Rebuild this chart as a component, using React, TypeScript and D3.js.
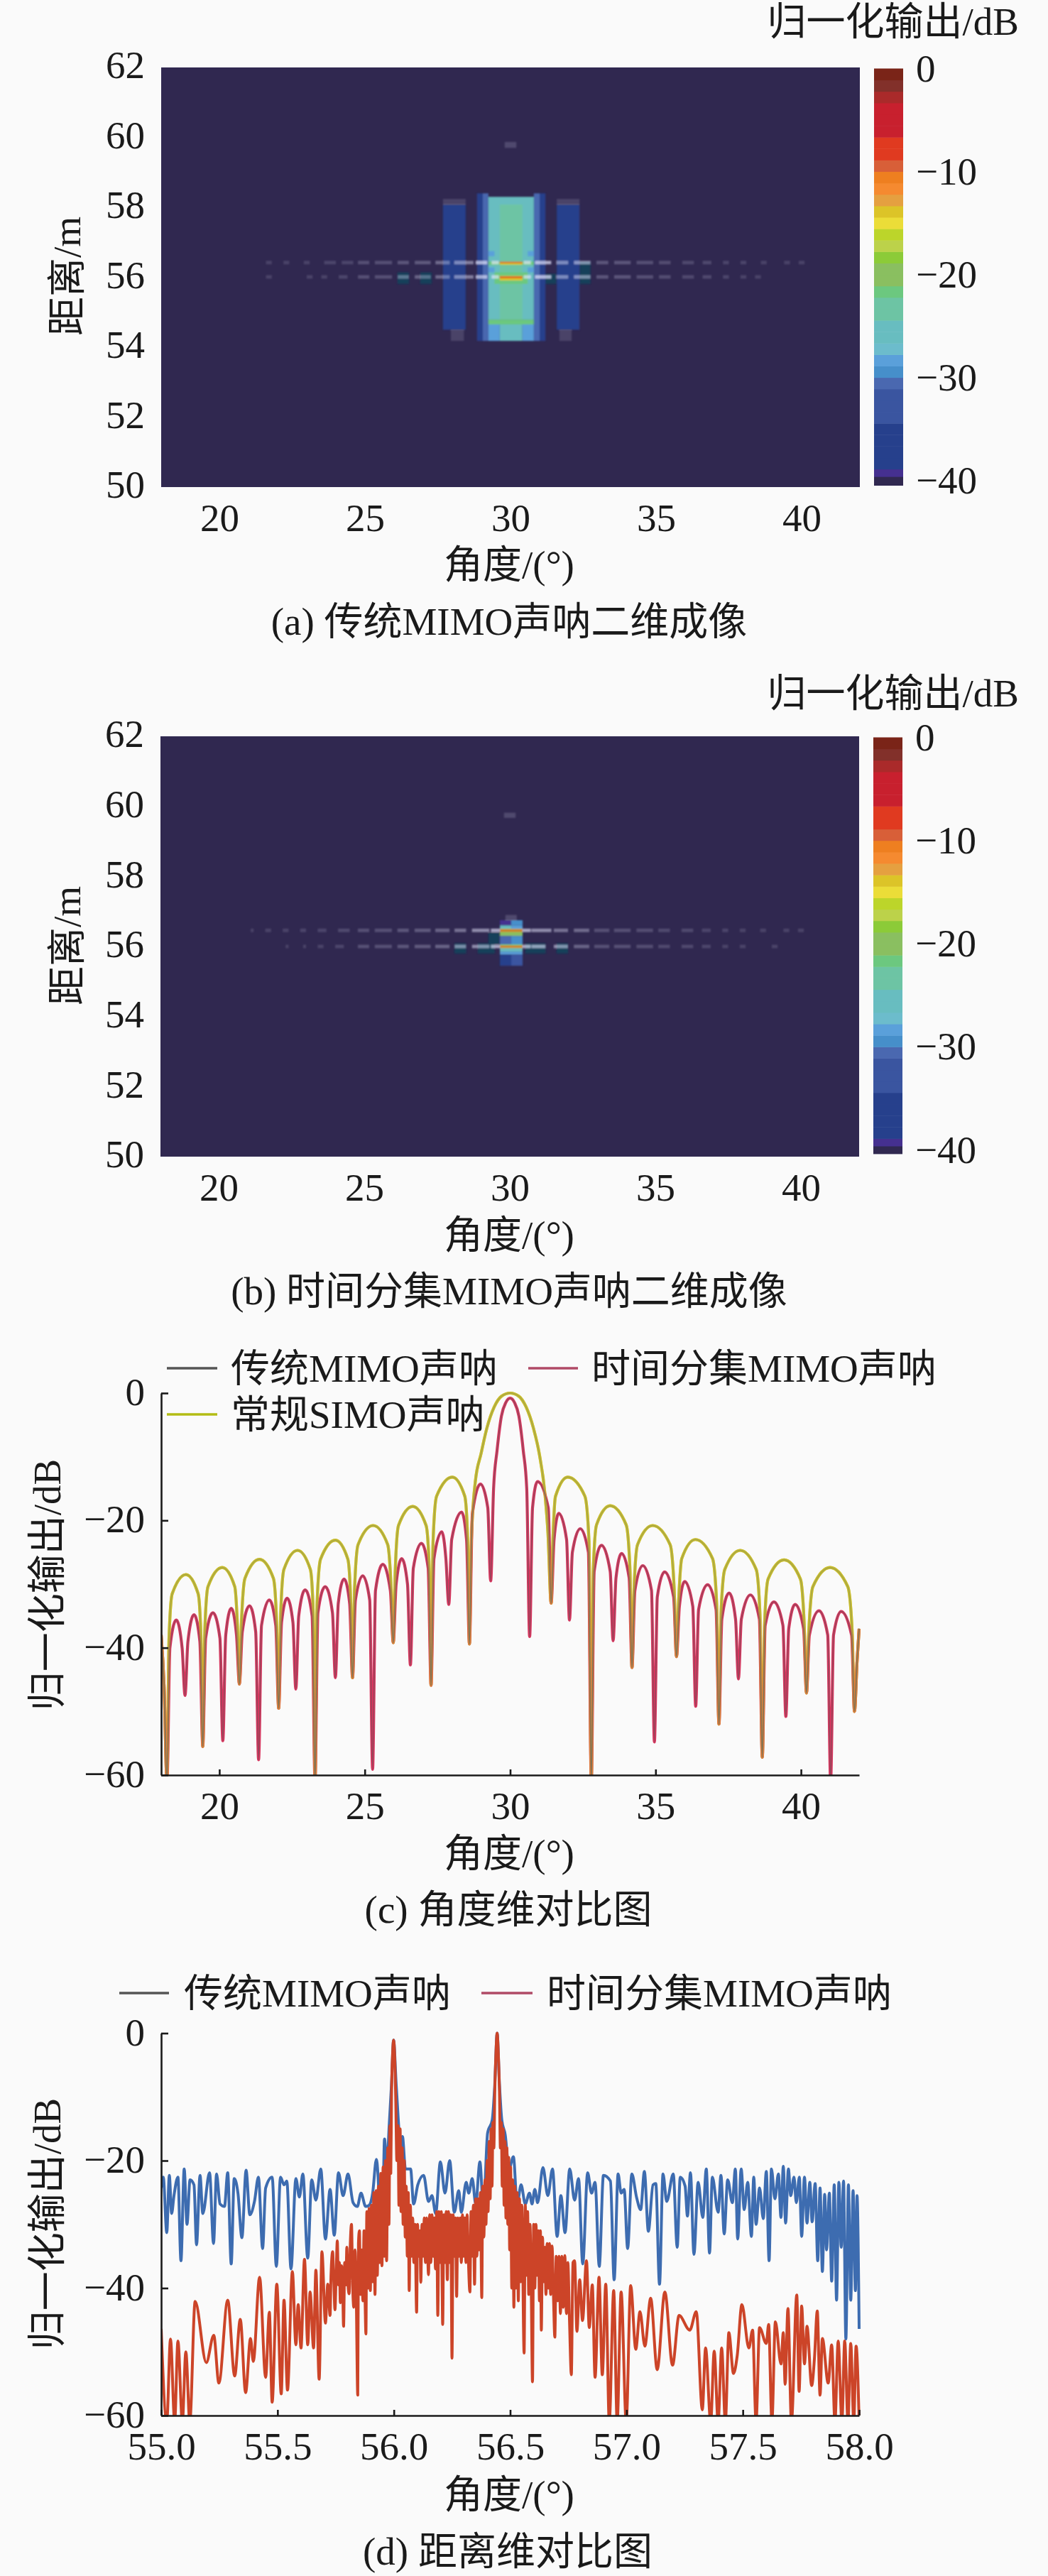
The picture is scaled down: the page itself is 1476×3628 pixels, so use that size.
import React, { useEffect, useRef } from "react";
import * as d3 from "d3";

type Pt = [number, number];
// angle start, angle end, range start, range end, level in dB
type Cell = [number, number, number, number, number];
// angle start, angle end, level in dB
type Dash = [number, number, number];

const FONT = '"Liberation Serif", "Noto Sans CJK SC", serif';
const TEXT = "#1a1a1a";

const colorbarTicks = [0, -10, -20, -30, -40];
const angleTicks = [20, 25, 30, 35, 40];
const rangeTicks = [50, 52, 54, 56, 58, 60, 62];
const levelTicks = [0, -20, -40, -60];
const rangeCutTicks = [55, 55.5, 56, 56.5, 57, 57.5, 58];

// colormap bands, from -40 dB up to 0 dB
const bandColors = [
  "#453090", "#26408c", "#26408c", "#26408c", "#26408c", "#3a55a0", "#3a55a0", "#3a55a0",
  "#4a68b0", "#468fca", "#5aa0da", "#6cbccc", "#68bdc0", "#68bdc0", "#6dc4a4", "#6dc4a4",
  "#6cc87f", "#8abf60", "#8abf60", "#8ccb38", "#bcd24a", "#bcd52a", "#ebdd38", "#dcc428",
  "#e5a040", "#f58a30", "#ee7f20", "#d85f38", "#e03a20", "#e03a20", "#c8202e", "#c8202e",
  "#c8202e", "#aa2a2a", "#82302a", "#7a2418",
];
const floorColor = "#302850";
const floorLevel = -39.65;

// (a) conventional MIMO image
const cellsA: Cell[] = [
  [27.68, 28.46, 54.5, 58.08, -35], [31.59, 32.37, 54.5, 58.08, -35],
  [28.85, 29.05, 54.18, 58.4, -35], [29.05, 29.24, 54.18, 58.4, -31],
  [30.8, 31, 54.18, 58.4, -31], [31, 31.2, 54.18, 58.4, -35],
  [29.24, 30.8, 54.79, 58.3, -25], [29.63, 30.41, 54.79, 58.08, -23],
  [29.24, 30.8, 54.65, 54.79, -21.6], [29.63, 30.41, 54.18, 54.65, -25],
  [29.24, 29.63, 54.18, 54.65, -28.2], [30.41, 30.8, 54.18, 54.65, -28.2],
  [29.24, 29.45, 56.6, 56.75, -28.2], [30.59, 30.8, 56.6, 56.75, -28.2],
  [29.24, 29.45, 56.14, 56.28, -28.2], [30.59, 30.8, 56.14, 56.28, -28.2],
  [29.45, 30.59, 55.81, 56.14, -21.6], [29.24, 30.8, 56.35, 56.45, -21.6],
  [29.63, 30.41, 56.36, 56.44, -13.5], [29.63, 30.41, 56.41, 56.44, -8],
  [29.63, 30.41, 55.91, 56.04, -13.5], [29.63, 30.41, 55.98, 56.02, -7],
];
const tealA: Cell[] = [
  [26.12, 26.51, 55.81, 56.14, 0], [26.9, 27.29, 55.81, 56.14, 0],
  [31.2, 31.57, 55.81, 56.1, 0], [32.38, 32.75, 55.81, 56.45, 0],
];
const faintA: Cell[] = [
  [29.8, 30.2, 59.7, 59.87, -38], [27.68, 28.46, 58.08, 58.24, -39], [31.59, 32.37, 58.08, 58.24, -39],
  [27.95, 28.4, 54.18, 54.5, -39], [31.68, 32.1, 54.18, 54.5, -39],
];
const dashesA1: Dash[] = [
  [21.6, 21.8, -39], [22.2, 22.4, -39], [22.9, 23.1, -39], [23.6, 24, -38.5], [24.2, 24.6, -38.5],
  [24.76, 25.15, -37], [25.34, 25.93, -37], [26.12, 26.51, -36], [26.71, 27.26, -35.5], [27.42, 27.91, -33],
  [28.07, 28.73, -30], [28.8, 29.2, -23], [29.35, 29.6, -24], [30.45, 30.7, -24], [30.84, 31.4, -23],
  [31.57, 31.98, -30], [32.18, 32.75, -28], [32.95, 33.36, -36], [33.56, 34.13, -36], [34.33, 34.9, -37],
  [35.1, 35.5, -37.5], [35.9, 36.3, -38], [36.6, 36.9, -38], [37.3, 37.5, -38.5], [37.9, 38.1, -38.5],
  [38.6, 38.8, -39], [39.4, 39.6, -39], [39.9, 40.1, -39],
];
const dashesA2: Dash[] = [
  [21.6, 21.8, -39], [23, 23.2, -39], [23.5, 23.7, -39], [24.1, 24.4, -38.5],
  [24.76, 25.15, -37], [25.34, 25.93, -37], [26.12, 26.51, -33], [26.71, 27.26, -34], [27.42, 27.91, -33],
  [28.07, 28.73, -30], [28.8, 29.2, -24], [29.35, 29.6, -24], [30.45, 30.7, -24], [30.84, 31.4, -22],
  [31.57, 31.98, -30], [32.18, 32.75, -29], [32.95, 33.36, -36], [33.56, 34.13, -36], [34.33, 34.9, -37],
  [35.1, 35.5, -37.5], [35.9, 36.3, -38], [36.6, 36.9, -38], [37.3, 37.5, -38.5], [37.9, 38.1, -39], [38.4, 38.6, -39],
];

// (b) time diversity MIMO image
const cellsB: Cell[] = [
  [29.66, 30.05, 56.6, 56.75, -39], [30.05, 30.44, 56.6, 56.75, -29.5],
  [29.66, 30.05, 56.5, 56.6, -25], [30.05, 30.44, 56.5, 56.6, -28.2],
  [29.66, 30.44, 56.41, 56.5, -13.5], [29.66, 30.44, 56.44, 56.47, -6],
  [29.66, 30.44, 56.3, 56.41, -19.5], [29.66, 30.05, 56.06, 56.3, -31], [30.05, 30.44, 56.06, 56.3, -29.5],
  [29.66, 30.44, 56, 56.06, -21.6], [29.66, 30.44, 55.95, 56.03, -13.5], [29.66, 30.44, 55.98, 56.01, -6],
  [29.66, 30.44, 55.85, 55.95, -25], [29.66, 30.44, 55.77, 55.85, -28.2],
  [29.66, 30.05, 55.45, 55.77, -35], [30.05, 30.44, 55.45, 55.77, -33],
];
const tealB: Cell[] = [
  [28.1, 28.5, 55.8, 56.09, 0], [28.9, 29.48, 55.8, 56.09, 0], [30.53, 31.23, 55.8, 56.09, 0],
  [31.61, 32, 55.8, 56.09, 0], [29.27, 29.64, 56.06, 56.4, 0],
];
const faintB: Cell[] = [
  [29.8, 30.2, 59.67, 59.82, -38], [29.85, 30.24, 56.75, 56.9, -38],
];
const dashesB1: Dash[] = [
  [21.1, 21.2, -39], [21.6, 21.8, -39], [22.2, 22.4, -39], [22.8, 23, -38.5], [23.4, 23.7, -38.5], [24.1, 24.5, -38],
  [24.78, 25.17, -37], [25.36, 25.95, -37], [26.14, 26.53, -36], [26.73, 27.28, -35.5], [27.44, 27.93, -34],
  [28.1, 28.5, -32], [28.7, 29.3, -28], [29.35, 29.66, -24], [30.44, 30.72, -24], [30.74, 31.43, -28],
  [31.51, 32, -32], [32.2, 32.73, -33], [32.9, 33.42, -37], [33.58, 34.15, -37], [34.35, 34.92, -37.5],
  [35.1, 35.5, -38], [35.9, 36.3, -38], [36.6, 36.9, -38.5], [37.3, 37.5, -38.5], [37.9, 38.1, -39],
  [38.6, 38.8, -39], [39.4, 39.6, -39], [39.9, 40.1, -39],
];
const dashesB2: Dash[] = [
  [22.3, 22.4, -39], [22.9, 23, -39], [23.4, 23.6, -39], [24, 24.3, -38.5],
  [24.78, 25.17, -37], [25.36, 25.95, -37], [26.14, 26.53, -36], [26.73, 27.28, -35.5], [27.44, 27.93, -34],
  [28.1, 28.5, -29], [28.7, 29.3, -28], [29.35, 29.66, -24], [30.44, 30.72, -24], [30.74, 31.23, -26],
  [31.51, 32, -28], [32.2, 32.73, -34], [32.9, 33.42, -37], [33.58, 34.15, -37], [34.35, 34.92, -37.5],
  [35.1, 35.5, -38], [35.9, 36.3, -38], [36.6, 36.9, -38.5], [37.3, 37.5, -39], [37.9, 38.1, -39], [39, 39.2, -39],
];

// (c) angle cut: conventional and time diversity MIMO lie on top of each other
const mimoAngleCut: Pt[] = [
  [18, -38], [18.1, -46], [18.2, -61], [18.3, -40], [18.52, -35.65], [18.72, -40], [18.82, -47.5], [18.92, -39],
  [19.13, -34.8], [19.33, -39], [19.43, -55.5], [19.53, -38.5], [19.78, -34.5], [20.02, -38.5], [20.12, -54.6],
  [20.22, -38], [20.41, -33.8], [20.59, -38], [20.69, -45.7], [20.79, -37.5], [21.04, -33.4], [21.25, -37.5],
  [21.35, -57.6], [21.45, -36.5], [21.72, -32.5], [21.94, -36.5], [22.04, -49.5], [22.14, -36], [22.33, -32.2],
  [22.53, -36], [22.63, -46.5], [22.73, -35], [22.95, -30.9], [23.19, -35], [23.29, -61], [23.39, -34.5],
  [23.64, -30.4], [23.89, -34.5], [23.99, -44.7], [24.09, -33], [24.29, -29.2], [24.48, -33], [24.58, -44.7],
  [24.68, -32.5], [24.93, -28.7], [25.17, -32.5], [25.27, -59.1], [25.37, -31], [25.62, -26.9], [25.88, -31],
  [25.98, -39.2], [26.08, -30], [26.27, -26], [26.47, -30], [26.57, -42.7], [26.67, -27.5], [26.95, -23.6],
  [27.18, -27.5], [27.28, -45.9], [27.38, -26], [27.65, -21.8], [27.79, -26], [27.89, -33.2], [27.99, -23],
  [28.33, -18.7], [28.5, -23], [28.6, -39.4], [28.7, -19], [28.98, -14.3], [29.23, -18], [29.33, -29.5],
  [29.43, -15], [29.55, -9], [29.7, -3.6], [29.85, -1.5], [30, -0.8], [30.15, -1.5], [30.3, -3.6], [30.45, -9],
  [30.57, -15], [30.67, -38.25], [30.77, -18], [30.94, -13.9], [31.31, -18], [31.41, -33], [31.51, -23],
  [31.67, -18.9], [31.94, -23], [32.04, -35.65], [32.14, -25], [32.41, -21.3], [32.69, -25], [32.79, -61],
  [32.89, -28], [33.14, -23.9], [33.44, -28], [33.54, -38.9], [33.64, -29], [33.83, -25.2], [34.09, -29],
  [34.19, -43.1], [34.29, -31], [34.56, -27.1], [34.86, -31], [34.96, -54.8], [35.06, -32], [35.31, -28.1],
  [35.62, -32], [35.72, -41.4], [35.82, -33.5], [36, -29.6], [36.28, -33.5], [36.38, -49.2], [36.48, -34],
  [36.79, -30.1], [37.08, -34], [37.18, -52], [37.28, -35.5], [37.53, -31.4], [37.75, -35.5], [37.85, -44.9],
  [37.95, -35.5], [38.26, -31.7], [38.57, -35.5], [38.67, -57.2], [38.77, -36.5], [39.07, -32.8], [39.38, -36.5],
  [39.48, -50.8], [39.58, -37], [39.8, -33.2], [40.09, -37], [40.19, -47.1], [40.29, -38], [40.62, -34.2],
  [40.92, -38], [41.02, -61], [41.12, -38], [41.38, -34.3], [41.74, -38], [41.84, -50], [41.93, -42], [42, -37],
];
const simoAngleCut: Pt[] = [
  [18, -38], [18.1, -46], [18.2, -61], [18.27, -38.5], [18.38, -31.5], [18.85, -28.5], [19.27, -31.5], [19.37, -38.5],
  [19.43, -55.5], [19.5, -37.4], [19.61, -30.4], [20.1, -27.4], [20.53, -30.4], [20.63, -37.4], [20.69, -45.7],
  [20.76, -36.1], [20.88, -29.1], [21.38, -26.1], [21.86, -29.1], [21.97, -36.1], [22.04, -49.5], [22.11, -34.7],
  [22.22, -27.7], [22.69, -24.7], [23.13, -27.7], [23.23, -34.7], [23.29, -61], [23.36, -33.1], [23.48, -26.1],
  [23.99, -23.1], [24.42, -26.1], [24.52, -33.1], [24.58, -44.7], [24.65, -30.8], [24.77, -23.8], [25.29, -20.8],
  [25.79, -23.8], [25.91, -30.8], [25.98, -39.2], [26.05, -27.8], [26.16, -20.8], [26.65, -17.8], [27.11, -20.8],
  [27.22, -27.8], [27.28, -45.9], [27.35, -23.2], [27.47, -16.2], [28.01, -13.2], [28.44, -16.2], [28.54, -23.2],
  [28.6, -39.4], [28.66, -24], [28.8, -14], [29, -9.5], [29.2, -5.5], [29.45, -2.2], [29.7, -0.5], [30, 0],
  [30.3, -0.5], [30.55, -2.2], [30.8, -5.5], [31, -9.5], [31.2, -16], [31.3, -22], [31.41, -33], [31.47, -23.2],
  [31.56, -16.2], [31.98, -13.2], [32.57, -16.2], [32.71, -23.2], [32.79, -61], [32.86, -27.7], [32.97, -20.7],
  [33.44, -17.7], [33.99, -20.7], [34.12, -27.7], [34.19, -43.1], [34.26, -30.8], [34.38, -23.8], [34.9, -20.8],
  [35.5, -23.8], [35.64, -30.8], [35.72, -41.4], [35.79, -33], [35.9, -26], [36.37, -23], [36.96, -26], [37.1, -33],
  [37.18, -52], [37.25, -34.7], [37.38, -27.7], [37.91, -24.7], [38.46, -27.7], [38.59, -34.7], [38.67, -57.2],
  [38.75, -36.2], [38.87, -29.2], [39.42, -26.2], [39.98, -29.2], [40.11, -36.2], [40.19, -47.1], [40.27, -37.4],
  [40.41, -30.4], [41, -27.4], [41.61, -30.4], [41.76, -37.4], [41.84, -50], [41.93, -42], [42, -37],
];

// (d) range cut
const conventionalRangeCut: Pt[] = [
  [55, -24.3], [55.009, -22.6], [55.024, -31.3], [55.035, -22.3], [55.045, -28.3], [55.055, -25.5], [55.072, -22.6],
  [55.085, -35.7], [55.099, -21.3], [55.111, -30], [55.124, -23], [55.141, -23.8], [55.152, -33.2], [55.167, -22.3],
  [55.179, -28.3], [55.208, -21.9], [55.225, -33], [55.238, -22.1], [55.253, -26.8], [55.272, -27.2], [55.286, -21.9],
  [55.301, -36.2], [55.314, -22.8], [55.33, -25.1], [55.347, -32.1], [55.365, -21.5], [55.381, -28.5], [55.401, -26.4],
  [55.418, -22.6], [55.436, -33.8], [55.449, -24.3], [55.477, -22.6], [55.495, -36.6], [55.513, -22.6], [55.528, -23.8],
  [55.54, -23.2], [55.558, -37], [55.579, -22.8], [55.594, -25.7], [55.609, -22.1], [55.63, -35.3], [55.647, -23],
  [55.665, -26.2], [55.686, -21.3], [55.706, -32.3], [55.726, -24.5], [55.744, -31.7], [55.762, -21.9], [55.782, -25.5],
  [55.803, -22.1], [55.825, -26.6], [55.843, -27.2], [55.859, -25.1], [55.879, -27.2], [55.894, -27], [55.909, -25.1],
  [55.925, -19.8], [55.95, -33.2], [55.96, -16.6], [55.97, -21], [55.98, -14.5], [55.99, -8], [55.999, -1.1], [56.01, -8],
  [56.021, -14.7], [56.03, -21], [56.037, -16.2], [56.05, -21.3], [56.072, -21.3], [56.085, -26.8], [56.103, -23.8],
  [56.128, -22.3], [56.149, -26.4], [56.164, -25.5], [56.18, -28.3], [56.2, -20.2], [56.22, -25.1], [56.24, -20],
  [56.26, -28.1], [56.279, -24.7], [56.29, -28.1], [56.311, -23.4], [56.322, -25.1], [56.337, -22.8], [56.352, -26.8],
  [56.37, -20.2], [56.385, -27.6], [56.403, -15.7], [56.423, -13.6], [56.434, -8], [56.444, 0], [56.454, -8], [56.464, -13.6],
  [56.479, -16], [56.495, -21.3], [56.514, -19.4], [56.53, -26.8], [56.547, -23.8], [56.565, -26.8], [56.583, -25.1],
  [56.594, -26.8], [56.606, -24.5], [56.618, -26.6], [56.641, -21.1], [56.662, -25.5], [56.682, -21.3], [56.702, -31.9],
  [56.718, -25.5], [56.736, -31.3], [56.756, -21.3], [56.777, -26.2], [56.794, -22.8], [56.812, -36.2], [56.833, -21.9],
  [56.85, -25.1], [56.865, -23.4], [56.883, -36.6], [56.901, -22.3], [56.931, -23.2], [56.947, -38.7], [56.964, -22.1],
  [56.977, -25.1], [56.99, -24.5], [57.005, -33.8], [57.023, -22.1], [57.043, -25.7], [57.061, -27.7], [57.077, -21.7],
  [57.094, -31.1], [57.114, -23.8], [57.126, -23.6], [57.142, -39.4], [57.157, -22.1], [57.173, -26.4], [57.201, -22.1],
  [57.218, -33.6], [57.231, -22.6], [57.252, -24], [57.262, -28.7], [57.275, -21.9], [57.29, -34.7], [57.308, -23.4],
  [57.328, -28.9], [57.343, -21.3], [57.357, -34.5], [57.369, -22.6], [57.394, -28.1], [57.406, -22.3], [57.42, -31.5],
  [57.435, -23], [57.455, -26.6], [57.468, -21.3], [57.478, -32.3], [57.493, -21.3], [57.506, -27.7], [57.521, -23.4],
  [57.537, -31.9], [57.547, -22.6], [57.557, -30], [57.572, -24.3], [57.588, -29.1], [57.601, -21.7], [57.613, -35.7],
  [57.623, -21.3], [57.638, -26], [57.653, -22.1], [57.664, -28.9], [57.674, -20.9], [57.684, -29.8], [57.696, -21.3],
  [57.706, -25.5], [57.72, -22.6], [57.73, -26.6], [57.743, -22.6], [57.753, -31.9], [57.765, -22.6], [57.776, -29.8],
  [57.788, -23.4], [57.798, -29.6], [57.811, -23.6], [57.822, -35.7], [57.832, -24.3], [57.842, -37.4], [57.852, -25.3],
  [57.86, -34], [57.872, -25.1], [57.882, -38.9], [57.893, -23.8], [57.903, -41.9], [57.913, -23.4], [57.923, -33.6],
  [57.933, -23.2], [57.943, -48], [57.954, -23.8], [57.964, -41.9], [57.974, -24.7], [57.984, -40.4], [57.991, -25.5], [58, -46.4],
];
const diversityRangeCut: Pt[] = [
  [55, -46.4], [55.024, -61], [55.04, -48], [55.058, -61], [55.072, -48.3], [55.091, -61], [55.106, -50], [55.123, -61],
  [55.146, -42.1], [55.194, -51.7], [55.226, -47.4], [55.248, -54.9], [55.286, -41.9], [55.316, -53.8], [55.34, -44.9],
  [55.363, -56.4], [55.384, -47.9], [55.396, -51.5], [55.423, -38.3], [55.449, -54], [55.465, -43.8], [55.477, -57.9],
  [55.497, -39.4], [55.516, -56.6], [55.528, -41.9], [55.543, -56], [55.564, -37.4], [55.579, -48.9], [55.589, -42.6],
  [55.601, -49.4], [55.616, -35.5], [55.63, -48.9], [55.64, -40.6], [55.655, -49.4], [55.665, -37.2], [55.679, -54.3],
  [55.691, -34.3], [55.706, -45.5], [55.716, -39.4], [55.726, -44.3], [55.73, -38], [55.737, -34.3], [55.742, -39],
  [55.747, -43.4], [55.752, -38], [55.757, -32.6], [55.762, -39.5], [55.766, -36], [55.77, -42.3], [55.775, -36.5],
  [55.78, -39.5], [55.784, -46], [55.789, -36], [55.794, -39.5], [55.798, -33.6], [55.803, -39.5], [55.808, -40.9],
  [55.813, -33], [55.818, -30], [55.823, -39.5], [55.828, -43], [55.833, -34], [55.838, -40], [55.845, -56.8], [55.848, -33],
  [55.852, -31], [55.857, -41], [55.862, -34], [55.867, -42], [55.872, -31], [55.877, -43], [55.88, -47.2], [55.884, -28],
  [55.889, -40], [55.894, -27.5], [55.899, -40.4], [55.904, -27], [55.909, -39], [55.914, -25], [55.919, -41], [55.924, -24.7],
  [55.929, -38], [55.934, -24], [55.939, -36], [55.944, -22], [55.949, -36.5], [55.954, -21], [55.959, -35], [55.964, -20],
  [55.969, -35.7], [55.974, -18], [55.979, -30], [55.983, -14.5], [55.987, -22], [55.99, -10], [55.995, -3], [55.999, -1.1],
  [56.003, -3], [56.008, -10], [56.013, -20], [56.018, -14.5], [56.022, -27], [56.027, -15], [56.031, -28], [56.036, -18],
  [56.04, -30], [56.045, -20], [56.049, -32], [56.053, -24], [56.058, -35], [56.062, -25], [56.066, -40.4], [56.071, -27],
  [56.076, -35], [56.081, -29], [56.086, -36], [56.091, -30], [56.098, -43.8], [56.102, -30], [56.107, -35], [56.112, -31],
  [56.116, -39.1], [56.121, -30], [56.126, -35], [56.131, -29], [56.136, -36], [56.141, -29], [56.149, -37.9], [56.154, -28.5],
  [56.159, -36], [56.164, -28.5], [56.169, -35], [56.174, -29], [56.179, -37], [56.184, -28], [56.189, -44.3], [56.194, -28],
  [56.199, -36], [56.204, -28], [56.21, -45.7], [56.215, -28.5], [56.22, -36], [56.225, -28], [56.23, -38.7], [56.235, -28],
  [56.24, -36], [56.245, -28.5], [56.25, -51], [56.255, -28.5], [56.26, -35], [56.265, -29], [56.27, -41.3], [56.275, -29],
  [56.28, -35], [56.285, -29], [56.29, -36], [56.295, -28.5], [56.3, -35], [56.305, -29], [56.31, -36], [56.315, -28.5],
  [56.32, -35], [56.327, -40.6], [56.332, -28], [56.337, -35], [56.342, -27], [56.347, -39.4], [56.352, -26], [56.357, -35],
  [56.362, -26], [56.367, -34], [56.372, -25], [56.378, -41.5], [56.382, -24], [56.387, -32], [56.392, -23], [56.396, -30],
  [56.401, -20], [56.405, -28], [56.41, -17], [56.414, -26], [56.418, -15], [56.422, -24], [56.426, -14], [56.43, -18],
  [56.434, -9], [56.439, -3], [56.444, 0], [56.449, -3], [56.454, -9], [56.458, -18], [56.462, -14], [56.466, -24], [56.47, -15],
  [56.474, -27], [56.478, -17], [56.482, -29], [56.486, -18], [56.49, -30], [56.494, -19.5], [56.498, -34], [56.502, -21],
  [56.507, -40], [56.511, -23], [56.516, -43], [56.52, -24], [56.525, -40], [56.53, -25], [56.535, -42], [56.54, -26],
  [56.545, -39], [56.55, -27], [56.56, -50.2], [56.565, -27], [56.57, -38], [56.575, -28], [56.58, -41], [56.585, -30],
  [56.59, -38], [56.596, -54.7], [56.601, -30], [56.606, -40], [56.611, -30], [56.616, -38], [56.621, -31], [56.626, -42],
  [56.63, -31], [56.634, -46.6], [56.639, -32], [56.644, -39], [56.649, -33.6], [56.654, -41], [56.659, -33], [56.664, -40],
  [56.669, -33], [56.674, -41], [56.68, -33.4], [56.686, -41], [56.692, -47.7], [56.698, -35], [56.704, -42], [56.71, -35],
  [56.716, -44], [56.722, -35], [56.728, -43], [56.735, -34.9], [56.742, -44], [56.748, -36], [56.755, -45], [56.763, -53.6],
  [56.77, -36], [56.777, -35.7], [56.787, -46.8], [56.799, -38.7], [56.811, -45.1], [56.828, -35.7], [56.84, -46.2],
  [56.853, -39.5], [56.865, -54], [56.882, -38.3], [56.896, -53.6], [56.911, -39.4], [56.926, -61], [56.945, -40.4],
  [56.96, -61], [56.977, -40.6], [56.999, -61], [57.018, -39.6], [57.04, -49.6], [57.058, -43.7], [57.079, -49.1],
  [57.104, -41.6], [57.132, -52.8], [57.165, -40.6], [57.198, -52.1], [57.226, -44.3], [57.272, -46.6], [57.3, -43.7],
  [57.326, -59.1], [57.34, -49.4], [57.362, -61], [57.377, -49.9], [57.394, -61], [57.409, -49.4], [57.425, -61],
  [57.44, -47], [57.46, -53.4], [57.476, -50.6], [57.496, -42.6], [57.526, -49.4], [57.542, -46.6], [57.557, -61],
  [57.572, -46.2], [57.601, -48.7], [57.611, -45.7], [57.625, -61], [57.64, -45.3], [57.664, -51.9], [57.674, -47],
  [57.682, -55.1], [57.694, -43.2], [57.709, -61], [57.732, -41.1], [57.742, -56.2], [57.753, -42.8], [57.765, -51.9],
  [57.776, -46], [57.796, -55.3], [57.808, -51], [57.82, -43.6], [57.832, -56.8], [57.842, -47.9], [57.867, -54.9],
  [57.882, -48.9], [57.896, -61], [57.91, -48.3], [57.926, -61], [57.938, -48.3], [57.952, -61], [57.964, -48.7],
  [57.977, -61], [57.987, -49.1], [58, -61],
];

const scaleColor = d3.scaleQuantize<string>().domain([-40, 0]).range(bandColors);

interface ImagePanel {
  left: number; right: number; top: number; bottom: number;
  barLeft: number; barRight: number; barTop: number; barBottom: number; barEnd: number;
  titleY: number; axisTitleY: number; captionY: number; rangeTitleY: number;
  caption: string; cells: Cell[]; teal: Cell[]; faint: Cell[]; row1: Dash[]; row2: Dash[]; row1At: number; row2At: number;
}

const panelA: ImagePanel = {
  left: 227, right: 1211, top: 95, bottom: 686,
  barLeft: 1231, barRight: 1272, barTop: 96.5, barBottom: 684, barEnd: -40.5,
  titleY: 30, axisTitleY: 795, captionY: 875, rangeTitleY: 389,
  caption: "(a) 传统MIMO声呐二维成像",
  cells: cellsA, teal: tealA, faint: faintA, row1: dashesA1, row2: dashesA2, row1At: 56.42, row2At: 56.01,
};
const panelB: ImagePanel = {
  left: 226, right: 1210, top: 1037, bottom: 1629,
  barLeft: 1230, barRight: 1271, barTop: 1038.5, barBottom: 1625.4, barEnd: -40.4,
  titleY: 976, axisTitleY: 1739, captionY: 1818, rangeTitleY: 1332,
  caption: "(b) 时间分集MIMO声呐二维成像",
  cells: cellsB, teal: tealB, faint: faintB, row1: dashesB1, row2: dashesB2, row1At: 56.46, row2At: 56,
};

const App: React.FC = () => {
  const svgRef = useRef<SVGSVGElement | null>(null);

  useEffect(() => {
    const svg = d3.select(svgRef.current);
    svg.selectAll("*").remove();
    svg.append("rect").attr("width", 1476).attr("height", 3628).attr("fill", "#fafafa");
    svg.append("filter").attr("id", "soft")
      .attr("x", "-20%").attr("y", "-20%").attr("width", "140%").attr("height", "140%")
      .append("feGaussianBlur").attr("stdDeviation", 1.1);

    const label = (
      text: string, x: number, y: number, anchor = "middle", rotate = false
    ) => {
      const t = svg
        .append("text")
        .attr("text-anchor", anchor)
        .attr("dominant-baseline", "central")
        .style("font-family", FONT)
        .style("font-size", "55px")
        .style("fill", TEXT)
        .text(text);
      if (rotate) t.attr("transform", `translate(${x},${y}) rotate(-90)`);
      else t.attr("x", x).attr("y", y);
    };

    const styleAxis = (g: any) => {
      g.attr("font-family", FONT).attr("font-size", 55);
      g.selectAll("text").style("fill", TEXT);
      g.selectAll("path,line").attr("stroke", TEXT).attr("stroke-width", 2.6);
    };

    // Heat map panels (a) and (b)
    [panelA, panelB].forEach((p) => {
      const x = d3.scaleLinear().domain([18, 42]).range([p.left, p.right]);
      const y = d3.scaleLinear().domain([50, 62]).range([p.bottom, p.top]);
      const level = d3.scaleLinear().domain([0, p.barEnd]).range([p.barTop, p.barBottom]);
      const streak = d3.scaleLinear().domain([-39, -22]).range([0.14, 0.72]).clamp(true);

      svg.append("rect").attr("x", p.left).attr("y", p.top)
        .attr("width", p.right - p.left).attr("height", p.bottom - p.top).attr("fill", floorColor);

      const image = svg.append("g").attr("filter", "url(#soft)");
      const rects = (list: Cell[], fill: (d: Cell) => string, opacity: (d: Cell) => number = () => 1) =>
        image.append("g").selectAll("rect").data(list).enter().append("rect")
          .attr("x", (d) => x(d[0]))
          .attr("width", (d) => x(d[1]) - x(d[0]))
          .attr("y", (d) => y(d[3]))
          .attr("height", (d) => y(d[2]) - y(d[3]))
          .attr("fill", fill)
          .attr("opacity", opacity);

      rects(p.teal, () => "#123f5a");
      rects(p.cells, (d) => scaleColor(d[4]));
      rects(p.faint, () => "#e8e8ff", (d) => streak(d[4]));

      [{ at: p.row1At, list: p.row1 }, { at: p.row2At, list: p.row2 }].forEach((row) => {
        image.append("g").selectAll("rect").data(row.list).enter().append("rect")
          .attr("x", (d) => x(d[0]))
          .attr("width", (d) => x(d[1]) - x(d[0]))
          .attr("y", y(row.at + 0.05))
          .attr("height", y(row.at - 0.05) - y(row.at + 0.05))
          .attr("fill", "#e8e8ff")
          .attr("opacity", (d) => streak(d[2]));
      });

      // Colorbar
      const step = 40 / bandColors.length;
      svg.append("g").selectAll("rect").data(bandColors).enter().append("rect")
        .attr("x", p.barLeft)
        .attr("width", p.barRight - p.barLeft)
        .attr("y", (_, i) => level(-40 + step * (i + 1)))
        .attr("height", level(-40) - level(-40 + step) + 0.5)
        .attr("fill", (d) => d);
      svg.append("rect").attr("x", p.barLeft).attr("width", p.barRight - p.barLeft)
        .attr("y", level(floorLevel)).attr("height", level(p.barEnd) - level(floorLevel)).attr("fill", floorColor);
      const barAxis = svg.append("g")
        .attr("transform", `translate(${p.barRight},0)`)
        .call(d3.axisRight(level).tickValues(colorbarTicks).tickSize(0).tickPadding(18));
      barAxis.select(".domain").remove();
      styleAxis(barAxis);

      const xAxis = svg.append("g")
        .attr("transform", `translate(0,${p.bottom})`)
        .call(d3.axisBottom(x).tickValues(angleTicks).tickSize(0).tickPadding(23));
      xAxis.select(".domain").remove();
      styleAxis(xAxis);
      const yAxis = svg.append("g")
        .attr("transform", `translate(${p.left},0)`)
        .call(d3.axisLeft(y).tickValues(rangeTicks).tickSize(0).tickPadding(23));
      yAxis.select(".domain").remove();
      styleAxis(yAxis);
      yAxis.selectAll("text").attr("dy", "0.27em");

      label("归一化输出/dB", 1435, p.titleY, "end");
      label("角度/(°)", 717, p.axisTitleY);
      label(p.caption, 717, p.captionY);
      label("距离/m", 94, p.rangeTitleY, "middle", true);
    });

    // Line panels (c) and (d)
    const linePanel = (
      top: number, bottom: number, domain: [number, number], ticks: number[], fmt: (v: number) => string, clipId: string
    ) => {
      const x = d3.scaleLinear().domain(domain).range([227, 1210]);
      const y = d3.scaleLinear().domain([-60, 0]).range([bottom, top]);
      svg.append("clipPath").attr("id", clipId).append("rect")
        .attr("x", 227).attr("y", top - 3).attr("width", 985).attr("height", bottom - top + 3);
      const line = d3.line<Pt>().x((d) => x(d[0])).y((d) => y(d[1])).curve(d3.curveMonotoneX);
      const draw = (data: Pt[], color: string, width: number, opacity = 1) =>
        svg.append("path").datum(data)
          .attr("clip-path", `url(#${clipId})`)
          .attr("fill", "none").attr("stroke", color).attr("stroke-width", width)
          .attr("stroke-linejoin", "round").attr("opacity", opacity).attr("d", line);
      return { x, y, draw, axes: () => {
        const xAxis = svg.append("g").attr("transform", `translate(0,${bottom})`)
          .call(d3.axisBottom(x).tickValues(ticks).tickFormat(fmt as any).tickSize(-8).tickSizeOuter(0).tickPadding(23));
        styleAxis(xAxis);
        const yAxis = svg.append("g").attr("transform", "translate(227,0)")
          .call(d3.axisLeft(y).tickValues(levelTicks).tickSize(-10).tickSizeOuter(0).tickPadding(23));
        styleAxis(yAxis);
        yAxis.selectAll("text").attr("dy", "0.3em");
      } };
    };

    const legendSample = (x1: number, x2: number, yy: number, color: string) =>
      svg.append("line").attr("x1", x1).attr("x2", x2).attr("y1", yy).attr("y2", yy)
        .attr("stroke", color).attr("stroke-width", 3.4);

    // (c)
    const c = linePanel(1962, 2500, [18, 42], angleTicks, (v) => String(v), "clip-c");
    const SIMO = "#b4bc34";
    const RED = "#d8365f";
    c.draw(simoAngleCut, SIMO, 4.2);
    c.draw(mimoAngleCut, RED, 4.2);
    // half transparent second pass: olive over red gives the orange of the overlaps
    c.draw(simoAngleCut, "#e0c020", 4.2, 0.55);
    c.draw(simoAngleCut, "#8a9460", 1.5, 0.6);
    c.draw(mimoAngleCut, "#555555", 1.5, 0.5);
    c.axes();
    legendSample(235, 306, 1927, "#555555");
    legendSample(744, 814, 1927, "#b04a66");
    legendSample(235, 306, 1992, "#b3bc14");
    label("传统MIMO声呐", 325, 1927, "start");
    label("时间分集MIMO声呐", 833, 1927, "start");
    label("常规SIMO声呐", 325, 1992, "start");
    label("角度/(°)", 717, 2610);
    label("(c) 角度维对比图", 716, 2689);
    label("归一化输出/dB", 66, 2232, "middle", true);

    // (d)
    const d = linePanel(2863.5, 3402, [55, 58], rangeCutTicks, d3.format(".1f"), "clip-d");
    d.draw(conventionalRangeCut, "#3d6cb0", 4);
    d.draw(diversityRangeCut, "#cc4428", 4);
    d.axes();
    legendSample(168, 238, 2807, "#555555");
    legendSample(678, 750, 2807, "#b04a66");
    label("传统MIMO声呐", 259, 2807, "start");
    label("时间分集MIMO声呐", 770, 2807, "start");
    label("角度/(°)", 717, 3513);
    label("(d) 距离维对比图", 715, 3593);
    label("归一化输出/dB", 66, 3132, "middle", true);
  }, []);

  return (
    <svg
      ref={svgRef}
      width={1476}
      height={3628}
      style={{ position: "absolute", left: 0, top: 0 }}
    ></svg>
  );
};

export default App;
